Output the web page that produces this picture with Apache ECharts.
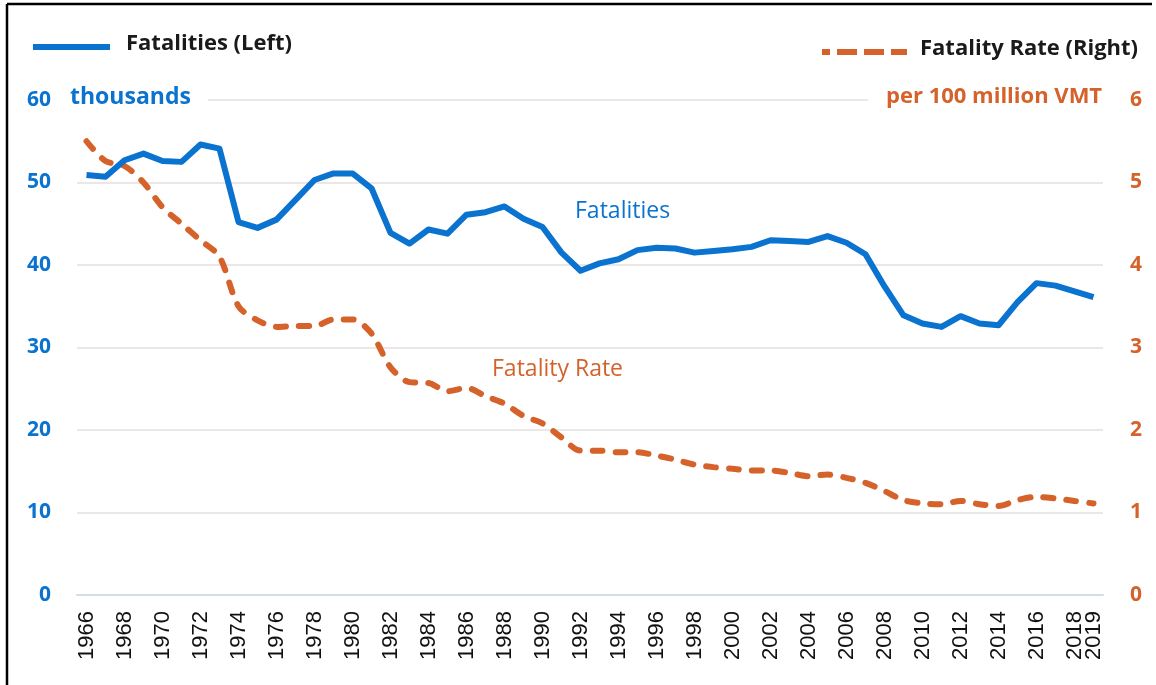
<!DOCTYPE html>
<html>
<head>
<meta charset="utf-8">
<script src="https://cdn.jsdelivr.net/npm/echarts@6/dist/echarts.min.js"></script>
<style>
html,body{margin:0;padding:0;background:#fff;}
#c{width:1156px;height:685px;}
</style>
</head>
<body>
<div id="c"></div>
<script>
var years = [];
for (var y = 1966; y <= 2019; y++) years.push(String(y));

var fatalities = [50.9, 50.7, 52.7, 53.5, 52.6, 52.5, 54.6, 54.1, 45.2, 44.5,
  45.5, 47.9, 50.3, 51.1, 51.1, 49.3, 43.9, 42.6, 44.3, 43.8,
  46.1, 46.4, 47.1, 45.6, 44.6, 41.5, 39.3, 40.2, 40.7, 41.8,
  42.1, 42.0, 41.5, 41.7, 41.9, 42.2, 43.0, 42.9, 42.8, 43.5,
  42.7, 41.3, 37.4, 33.9, 32.9, 32.5, 33.8, 32.9, 32.7, 35.5,
  37.8, 37.5, 36.8, 36.1];

var fatalityRate = [5.50, 5.26, 5.20, 5.00, 4.70, 4.50, 4.30, 4.10, 3.50, 3.33,
  3.25, 3.26, 3.26, 3.34, 3.34, 3.17, 2.76, 2.58, 2.57, 2.47,
  2.51, 2.41, 2.32, 2.17, 2.08, 1.91, 1.75, 1.75, 1.73, 1.73,
  1.69, 1.64, 1.58, 1.55, 1.53, 1.51, 1.51, 1.48, 1.44, 1.46,
  1.42, 1.36, 1.26, 1.15, 1.11, 1.10, 1.14, 1.10, 1.08, 1.15,
  1.19, 1.17, 1.14, 1.11];

var leftTicks = [0, 10, 20, 30, 40, 50, 60];
var rightTicks = [0, 1, 2, 3, 4, 5, 6];

var BLUE = '#0A72CF';
var ORANGE = '#D5622A';
var FONT = '"Open Sans", "Noto Sans", sans-serif';

var yearLabelStyle = {
  rotate: 90,
  margin: 16,
  fontFamily: '"Liberation Sans", Arial, sans-serif',
  fontSize: 22,
  color: '#111',
  hideOverlap: false
};

var chart = echarts.init(document.getElementById('c'), null, {renderer: 'canvas'});
chart.setOption({
  animation: false,
  backgroundColor: '#ffffff',
  grid: {left: 77, right: 53, top: 100, bottom: 90, containLabel: false, outerBoundsMode: 'none'},
  xAxis: [
    {
      type: 'category',
      data: years,
      boundaryGap: true,
      axisLine: {show: true, lineStyle: {color: '#D3DDE5', width: 2}},
      axisTick: {show: false},
      axisLabel: Object.assign({}, yearLabelStyle, {
        interval: function (i) { return i % 2 === 0; }
      }),
      splitLine: {show: false}
    },
    {
      // second label row on the same axis: only the final year (2019), which sits next to 2018
      type: 'category',
      data: years,
      position: 'bottom',
      boundaryGap: true,
      axisLine: {show: false},
      axisTick: {show: false},
      axisLabel: Object.assign({}, yearLabelStyle, {
        interval: function (i) { return i === years.length - 1; }
      }),
      splitLine: {show: false}
    }
  ],
  yAxis: [
    {
      type: 'value', position: 'left', min: 0, max: 60, interval: 10,
      axisLine: {show: false}, axisTick: {show: false},
      axisLabel: {
        margin: 26, color: BLUE, fontFamily: FONT, fontWeight: 'bold', fontSize: 21,
        formatter: function (v) { return leftTicks.indexOf(v) >= 0 ? String(v) : ''; }
      },
      splitLine: {show: true, lineStyle: {color: '#ECE7E7', width: 2}}
    },
    {
      type: 'value', position: 'right', min: 0, max: 6, interval: 1,
      axisLine: {show: false}, axisTick: {show: false},
      axisLabel: {
        margin: 27, color: ORANGE, fontFamily: FONT, fontWeight: 'bold', fontSize: 21,
        formatter: function (v) { return rightTicks.indexOf(v) >= 0 ? String(v) : ''; }
      },
      splitLine: {show: false}
    }
  ],
  series: [
    {
      name: 'Fatalities (Left)',
      type: 'line',
      xAxisIndex: 0,
      yAxisIndex: 0,
      data: fatalities,
      symbol: 'none',
      color: BLUE,
      lineStyle: {color: BLUE, width: 6, join: 'round'},
      z: 3
    },
    {
      name: 'Fatality Rate (Right)',
      type: 'line',
      xAxisIndex: 0,
      yAxisIndex: 1,
      data: fatalityRate,
      symbol: 'none',
      smooth: 0.3,
      color: ORANGE,
      lineStyle: {color: ORANGE, width: 6, type: [10, 13], cap: 'round'},
      z: 2
    }
  ],
  graphic: [
    {type: 'line', shape: {x1: 7, y1: 4, x2: 1152, y2: 4}, style: {stroke: '#000', lineWidth: 2.5}, silent: true},
    {type: 'line', shape: {x1: 7, y1: 4, x2: 7, y2: 685}, style: {stroke: '#000', lineWidth: 2.5}, silent: true},
    // legend
    {type: 'line', shape: {x1: 33, y1: 47, x2: 110, y2: 47}, style: {stroke: BLUE, lineWidth: 6}, silent: true},
    {type: 'text', left: 126, top: 33, style: {text: 'Fatalities (Left)', fill: '#1a1a1a', font: 'bold 22px ' + FONT}},
    {type: 'line', shape: {x1: 822, y1: 52, x2: 907, y2: 52}, style: {stroke: ORANGE, lineWidth: 6, lineDash: [20, 7], lineDashOffset: 12}, silent: true},
    {type: 'text', left: 920, top: 38, style: {text: 'Fatality Rate (Right)', fill: '#1a1a1a', font: 'bold 22px ' + FONT}},
    // axis unit labels
    {type: 'rect', left: 62, top: 88, shape: {width: 146, height: 26}, style: {fill: '#fff'}, z: 50, silent: true},
    {type: 'text', left: 70, top: 86, style: {text: 'thousands', fill: BLUE, font: 'bold 23px ' + FONT}, z: 51},
    {type: 'rect', left: 868, top: 88, shape: {width: 248, height: 26}, style: {fill: '#fff'}, z: 50, silent: true},
    {type: 'text', left: 886, top: 86, style: {text: 'per 100 million VMT', fill: ORANGE, font: 'bold 22px ' + FONT}, z: 51},
    // annotations
    {type: 'text', left: 575, top: 200, style: {text: 'Fatalities', fill: BLUE, font: '23px ' + FONT}, z: 51},
    {type: 'text', left: 492, top: 358, style: {text: 'Fatality Rate', fill: ORANGE, font: '23px ' + FONT}, z: 51}
  ]
});
</script>
</body>
</html>
